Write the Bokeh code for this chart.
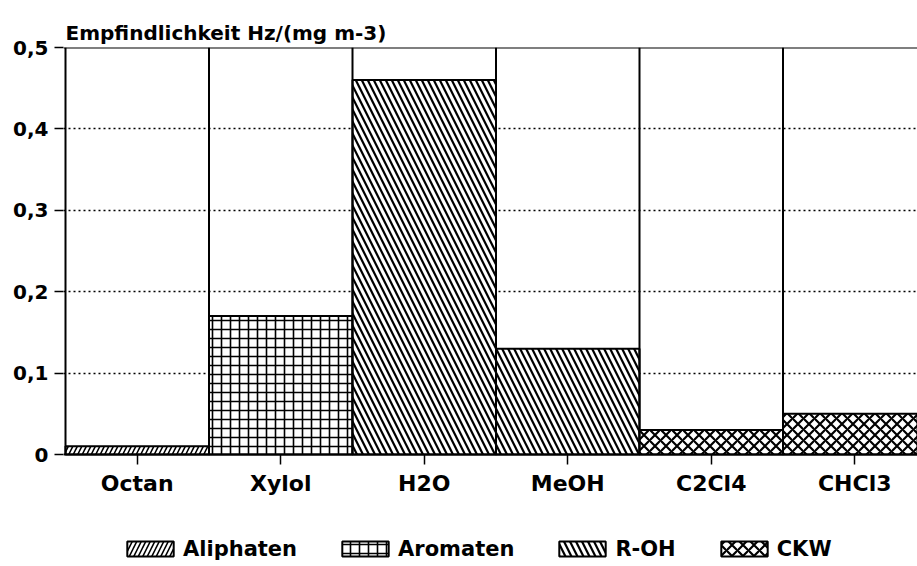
from bokeh.plotting import figure
from bokeh.models import Range1d, FixedTicker, Legend, LegendItem, Span
from bokeh.embed import file_html
from bokeh.resources import INLINE

# ---- data ----
categories = ["Octan", "Xylol", "H2O", "MeOH", "C2Cl4", "CHCl3"]
values = [0.01, 0.17, 0.46, 0.13, 0.03, 0.05]
groups = ["Aliphaten", "Aromaten", "R-OH", "R-OH", "CKW", "CKW"]
group_names = ["Aliphaten", "Aromaten", "R-OH", "CKW"]
y_ticks = [0, 0.1, 0.2, 0.3, 0.4, 0.5]
y_tick_labels = ["0", "0,1", "0,2", "0,3", "0,4", "0,5"]
title_text = "Empfindlichkeit Hz/(mg m-3)"

# ---- styles ----
hatch_style = {
    "Aliphaten": dict(hatch_pattern="/", hatch_scale=9, hatch_weight=1.6),
    "Aromaten": dict(hatch_pattern="+", hatch_scale=9, hatch_weight=1.6),
    "R-OH": dict(hatch_pattern="\\", hatch_scale=12, hatch_weight=2.2),
    "CKW": dict(hatch_pattern="x", hatch_scale=11, hatch_weight=2.2),
}
FONT = "DejaVu Sans"

n = len(categories)
xs = list(range(n))

# layout (pixels)
W, H = 917, 566
LEFT, TOP = 63, 47
CAT_PX = 143.5          # width of one category cell
PLOT_PX = 407           # height of 0 .. 0.5
BELOW_PX = 112          # space below the zero line (labels + legend)
px_per_unit = PLOT_PX / (y_ticks[-1] - y_ticks[0])
x0 = -0.5 - 2 / CAT_PX

p = figure(width=W, height=H, output_backend="svg", toolbar_location=None,
           x_range=Range1d(x0, x0 + (W - LEFT) / CAT_PX),
           y_range=Range1d(y_ticks[0] - BELOW_PX / px_per_unit, y_ticks[-1]),
           min_border_left=LEFT, min_border_right=0, min_border_top=TOP, min_border_bottom=0,
           background_fill_color="white", border_fill_color="white")
p.outline_line_color = None

p.title.text = title_text
p.title.text_font = FONT
p.title.text_font_style = "bold"
p.title.text_font_size = "20px"
p.title.text_color = "black"
p.title.align = "left"
p.title.standoff = 6
p.title.offset = 2

# grid
p.xgrid.visible = False
p.ygrid.ticker = FixedTicker(ticks=y_ticks[1:-1])
p.ygrid.grid_line_color = "black"
p.ygrid.grid_line_dash = "2 3"
p.ygrid.grid_line_width = 1.6

# bars per group
items = []
for g in group_names:
    idx = [i for i in xs if groups[i] == g]
    r = p.vbar(x=[xs[i] for i in idx], top=[values[i] for i in idx], bottom=0, width=1.0,
               fill_color="white", line_color="black", line_width=2,
               hatch_color="black", **hatch_style[g])
    items.append(LegendItem(label=g, renderers=[r]))

# category cells (full height boxes)
p.segment(x0=[x - 0.5 for x in xs], y0=[y_ticks[0]] * n,
          x1=[x - 0.5 for x in xs], y1=[y_ticks[-1]] * n,
          line_color="black", line_width=2)

p.add_layout(Span(location=y_ticks[-1], dimension="width", line_color="black", line_width=2))

# x axis on the zero line
xa = p.xaxis[0]
xa.fixed_location = y_ticks[0]
xa.ticker = FixedTicker(ticks=xs)
xa.major_label_overrides = {i: c for i, c in zip(xs, categories)}
xa.minor_tick_line_color = None
xa.major_tick_in = 0
xa.major_tick_out = 10
xa.major_tick_line_width = 1.5
xa.axis_line_width = 2
xa.major_label_standoff = 6
xa.major_label_text_font = FONT
xa.major_label_text_font_style = "bold"
xa.major_label_text_font_size = "22px"
xa.major_label_text_color = "black"

ya = p.yaxis[0]
ya.ticker = FixedTicker(ticks=y_ticks)
ya.major_label_overrides = {t: l for t, l in zip(y_ticks, y_tick_labels)}
ya.minor_tick_line_color = None
ya.axis_line_color = None
ya.major_tick_in = 0
ya.major_tick_out = 9
ya.major_tick_line_width = 1.5
ya.major_label_standoff = 6
ya.major_label_text_font = FONT
ya.major_label_text_font_style = "bold"
ya.major_label_text_font_size = "20px"
ya.major_label_text_color = "black"

legend = Legend(items=items, orientation="horizontal", location=(58, 5),
                padding=0, margin=0, spacing=39, label_standoff=4,
                glyph_width=58, glyph_height=19, label_height=25,
                border_line_color=None, background_fill_alpha=0,
                label_text_font=FONT, label_text_font_style="bold",
                label_text_font_size="21px", label_text_color="black")
p.add_layout(legend)

open("out.html", "w").write(file_html(p, INLINE))
